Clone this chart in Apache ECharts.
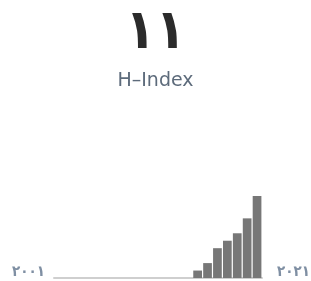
<!DOCTYPE html>
<html>
<head>
<meta charset="utf-8">
<script src="https://cdn.jsdelivr.net/npm/echarts@6/dist/echarts.min.js"></script>
<style>
  html, body { margin: 0; padding: 0; background: #fff; }
  #chart { width: 311px; height: 281px; }
</style>
</head>
<body>
<div id="chart"></div>
<script>
// years 2001..2021, h-index per year (0 before 2015)
var years = ['2001','2002','2003','2004','2005','2006','2007','2008','2009','2010',
             '2011','2012','2013','2014','2015','2016','2017','2018','2019','2020','2021'];
var hIndexValues = [0,0,0,0,0,0,0,0,0,0,0,0,0,0,1,2,4,5,6,8,11];
var firstLabel = '۲۰۰۱';
var lastLabel = '۲۰۲۱';
var headline = '۱۱';
var subtitle = 'H–Index';

var chart = echarts.init(document.getElementById('chart'));
chart.setOption({
  animation: false,
  title: [
    {
      text: headline,
      left: 'center',
      top: 6,
      padding: 0,
      textStyle: { fontFamily: 'DejaVu Sans Condensed', fontWeight: 'bold', fontSize: 55, color: '#2b2b2b' }
    },
    {
      text: subtitle,
      left: 'center',
      top: 72,
      padding: 0,
      textStyle: { fontFamily: 'DejaVu Sans', fontWeight: 'normal', fontSize: 19, color: '#5d6b7b' }
    }
  ],
  grid: { left: 54, right: 49, top: 196, bottom: 3 },
  xAxis: {
    type: 'category',
    data: years,
    axisLine: { lineStyle: { color: '#cfcfcf', width: 2 } },
    axisTick: { show: false },
    axisLabel: { show: false }
  },
  yAxis: {
    type: 'value',
    min: 0,
    max: 11,
    show: false,
    splitLine: { show: false }
  },
  series: [{
    type: 'bar',
    data: hIndexValues,
    barCategoryGap: '12%',
    itemStyle: { color: '#777777' }
  }],
  graphic: [
    {
      type: 'text', left: 12, top: 265,
      style: { text: firstLabel, fontFamily: 'DejaVu Sans Condensed', fontWeight: 'bold', fontSize: 15, fill: '#7f8fa3' }
    },
    {
      type: 'text', left: 277, top: 265,
      style: { text: lastLabel, fontFamily: 'DejaVu Sans Condensed', fontWeight: 'bold', fontSize: 15, fill: '#7f8fa3' }
    }
  ]
});
</script>
</body>
</html>
